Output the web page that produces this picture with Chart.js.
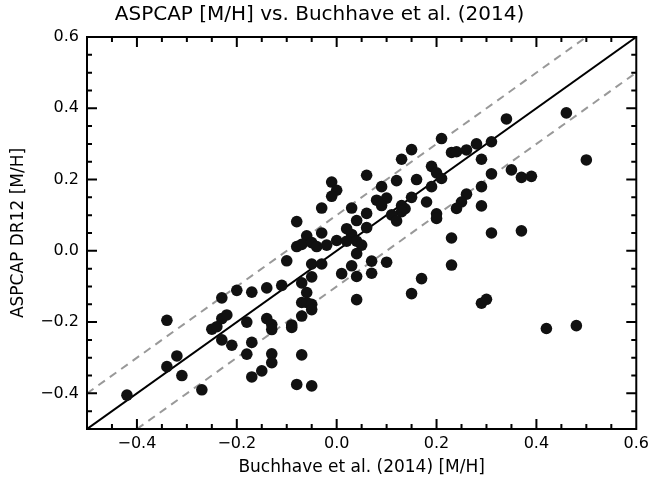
<!DOCTYPE html>
<html>
<head>
<meta charset="utf-8">
<script src="https://cdn.jsdelivr.net/npm/chart.js@4/dist/chart.umd.min.js"></script>
<style>
  body { margin: 0; background: #fff; }
</style>
</head>
<body>
<canvas id="myChart" width="654" height="485"></canvas>
<script>
// Buchhave et al. (2014) [M/H] for each star (x)
const buchhaveMH = [
  -0.42, -0.34, -0.34, -0.32, -0.31, -0.27, -0.25, -0.24, -0.23, -0.23, -0.22,
  -0.23, -0.21, -0.20, -0.18, -0.18, -0.17, -0.17, -0.17, -0.15, -0.14, -0.14,
  -0.06, -0.03, -0.08, -0.07, -0.05, -0.04, -0.02, 0.00, 0.03, 0.02, 0.04,
  0.05, 0.04, -0.10, -0.05, -0.03, 0.01, 0.03, 0.04, 0.07, 0.07, 0.10,
  -0.11, -0.07, -0.05, -0.06, -0.07, -0.06, -0.05, -0.05, -0.07, -0.09, -0.09,
  -0.13, -0.13, -0.13, -0.13, -0.07, -0.08, -0.05, 0.04, 0.15, 0.17,
  0.21, 0.15, 0.13, 0.19, 0.20, 0.21, 0.19, 0.16, 0.12, 0.06, 0.09,
  0.10, 0.08, 0.09, 0.15, 0.18, 0.13, 0.137, 0.13, 0.11, 0.12, 0.06,
  0.04, 0.06, 0.02, 0.03, -0.01, 0.00, -0.01, -0.03, -0.08, 0.20, 0.20,
  0.46, 0.34, 0.23, 0.24, 0.26, 0.28, 0.31, 0.29, 0.50, 0.31, 0.35,
  0.37, 0.39, 0.29, 0.26, 0.25, 0.24, 0.29, 0.23, 0.31, 0.37,
  0.23, 0.29, 0.30, 0.42, 0.48
];

// ASPCAP DR12 [M/H] for the same stars (y)
const aspcapMH = [
  -0.405, -0.195, -0.325, -0.295, -0.35, -0.39, -0.22, -0.213, -0.132, -0.19, -0.18,
  -0.25, -0.265, -0.111, -0.20, -0.29, -0.116, -0.257, -0.354, -0.337, -0.104, -0.19,
  0.042, 0.05, 0.012, 0.018, 0.023, 0.012, 0.016, 0.029, 0.046, 0.027, 0.027,
  0.016, -0.008, -0.028, -0.037, -0.037, -0.064, -0.042, -0.072, -0.029, -0.063, -0.032,
  -0.097, -0.09, -0.073, -0.117, -0.145, -0.145, -0.15, -0.165, -0.183, -0.208, -0.215,
  -0.207, -0.221, -0.289, -0.314, -0.292, -0.375, -0.379, -0.137, -0.12, -0.078,
  0.315, 0.284, 0.257, 0.237, 0.219, 0.203, 0.18, 0.20, 0.197, 0.212, 0.18,
  0.148, 0.142, 0.127, 0.15, 0.137, 0.127, 0.118, 0.11, 0.101, 0.084, 0.105,
  0.085, 0.065, 0.062, 0.12, 0.193, 0.17, 0.153, 0.12, 0.082, 0.104, 0.091,
  0.387, 0.37, 0.276, 0.278, 0.283, 0.30, 0.306, 0.257, 0.255, 0.216, 0.227,
  0.206, 0.209, 0.18, 0.159, 0.137, 0.119, 0.126, 0.036, 0.05, 0.056,
  -0.04, -0.147, -0.136, -0.218, -0.21
];

// axis range and tick labels
const axisMin = -0.5;
const axisMax = 0.6;
const xTickLabels = [-0.4, -0.2, 0.0, 0.2, 0.4, 0.6];
const yTickLabels = [-0.4, -0.2, 0.0, 0.2, 0.4, 0.6];
const minorStep = 0.05;

// one-to-one line and the +/- 0.1 dex lines
const lineOffsets = [0, 0.1, -0.1];

function fmt(v) {
  return v.toFixed(1).replace('-', '\u2212');
}

// endpoints of y = x + offset inside the box
function offsetLine(off) {
  const x0 = Math.max(axisMin, axisMin - off);
  const x1 = Math.min(axisMax, axisMax - off);
  return [{x: x0, y: x0 + off}, {x: x1, y: x1 + off}];
}

const lineSets = lineOffsets.map(off => ({
  data: offsetLine(off),
  showLine: true,
  pointRadius: 0,
  borderColor: off === 0 ? '#000' : '#999',
  borderWidth: 2,
  borderDash: off === 0 ? [] : [8, 6],
  order: 2
}));

const starSet = {
  data: buchhaveMH.map((x, i) => ({x: x, y: aspcapMH[i]})),
  pointRadius: 5.8,
  pointBackgroundColor: '#111',
  pointBorderWidth: 0,
  order: 1
};

// frame and inward ticks on all four sides
const frameTicks = {
  id: 'frameTicks',
  afterDatasetsDraw(chart) {
    const c = chart.ctx;
    const a = chart.chartArea;
    const xs = chart.scales.x;
    const ys = chart.scales.y;
    c.save();
    c.strokeStyle = '#000';
    c.lineWidth = 2;
    c.strokeRect(a.left, a.top, a.right - a.left, a.bottom - a.top);
    c.beginPath();
    const n = Math.round((axisMax - axisMin) / minorStep);
    for (let i = 1; i < n; i++) {
      const v = axisMin + i * minorStep;
      const major = Math.abs(Math.round(v / 0.2) * 0.2 - v) < 1e-6;
      const len = major ? 10 : 5;
      const px = xs.getPixelForValue(v);
      c.moveTo(px, a.bottom); c.lineTo(px, a.bottom - len);
      c.moveTo(px, a.top); c.lineTo(px, a.top + len);
      const py = ys.getPixelForValue(v);
      c.moveTo(a.left, py); c.lineTo(a.left + len, py);
      c.moveTo(a.right, py); c.lineTo(a.right - len, py);
    }
    c.stroke();
    c.restore();
  }
};

const tickFont = {family: 'DejaVu Sans', size: 16};
const axisTitleFont = {family: 'DejaVu Sans', size: 17};

new Chart(document.getElementById('myChart'), {
  type: 'scatter',
  data: { datasets: [starSet, ...lineSets] },
  options: {
    responsive: false,
    animation: false,
    layout: { padding: { left: 0, right: 15, top: 0, bottom: 0 } },
    plugins: {
      legend: { display: false },
      tooltip: { enabled: false },
      title: {
        display: true,
        text: 'ASPCAP [M/H] vs. Buchhave et al. (2014)',
        color: '#000',
        font: {family: 'DejaVu Sans', size: 20, weight: 'normal'},
        padding: { top: 3, bottom: 10 }
      }
    },
    scales: {
      x: {
        min: axisMin, max: axisMax,
        afterBuildTicks: s => { s.ticks = xTickLabels.map(v => ({value: v})); },
        afterFit: s => { s.height = 56; },
        grid: { drawOnChartArea: false, drawTicks: false },
        border: { display: false },
        ticks: { color: '#000', font: tickFont, padding: 5, maxRotation: 0, callback: v => fmt(v) },
        title: {
          display: true, text: 'Buchhave et al. (2014) [M/H]', color: '#000',
          font: axisTitleFont, padding: { top: 0, bottom: 7 }
        }
      },
      y: {
        min: axisMin, max: axisMax,
        afterBuildTicks: s => { s.ticks = yTickLabels.map(v => ({value: v})); },
        afterFit: s => { s.width = 87; },
        grid: { drawOnChartArea: false, drawTicks: false },
        border: { display: false },
        ticks: { color: '#000', font: tickFont, padding: 8, callback: v => fmt(v) },
        title: {
          display: true, text: 'ASPCAP DR12 [M/H]', color: '#000',
          font: axisTitleFont, padding: { top: 8, bottom: 0 }
        }
      }
    }
  },
  plugins: [frameTicks]
});
</script>
</body>
</html>
